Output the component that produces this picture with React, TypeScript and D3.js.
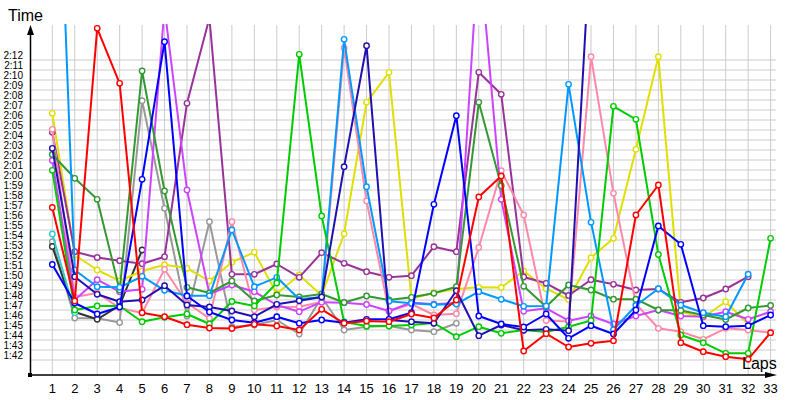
import React from 'react';
import * as d3 from 'd3';

const laps = [1,2,3,4,5,6,7,8,9,10,11,12,13,14,15,16,17,18,19,20,21,22,23,24,25,26,27,28,29,30,31,32,33];
const yTicks = [102,103,104,105,106,107,108,109,110,111,112,113,114,115,116,117,118,119,120,121,122,123,124,125,126,127,128,129,130,131,132];

// lap times in seconds
const red = [117.25,107.9,135.17,129.67,106.73,106.33,105.53,105.2,105.15,105.57,105.4,105.0,107.07,105.67,105.9,105.83,106.6,106.2,108.0,118.3,120.4,102.9,104.63,103.3,103.67,103.93,116.5,119.5,103.73,102.83,102.33,102.07,104.73];
const lime = [120.97,107.0,107.4,107.4,105.83,106.27,106.6,105.6,107.85,107.4,109.7,132.57,116.4,105.8,105.4,105.4,105.5,105.7,104.33,105.33,104.67,105.0,104.8,105.33,105.95,127.37,126.07,112.55,104.5,103.73,102.67,102.67,114.17];
const darkGreen = [122.55,120.17,118.07,109.0,130.9,118.9,109.27,108.7,109.9,107.9,108.5,108.3,108.6,107.75,108.4,108.0,108.27,108.67,109.33,127.77,119.43,109.37,107.33,109.5,109.0,108.08,108.08,107.0,106.95,106.5,106.05,107.2,107.45];
const blue = [111.55,107.7,106.6,107.3,120.07,133.83,108.4,106.8,106.0,105.73,106.33,105.67,106.0,105.73,106.07,106.07,106.73,117.57,126.43,106.4,105.6,105.3,106.6,104.17,105.43,104.6,107.0,115.4,113.57,105.43,105.33,105.43,106.5];
const indigo = [123.17,110.33,108.57,107.83,108.0,109.43,107.5,107.3,106.9,106.33,107.57,107.93,108.3,121.33,133.43,106.0,105.83,105.67,108.93,104.43,105.5,104.97,105.07,104.93,145];
const dodgerBlue = [170,111.0,109.33,109.27,110.37,108.97,108.43,108.43,115.0,109.33,110.27,108.07,108.3,134.07,119.33,107.87,107.67,107.53,107.6,108.83,108.07,107.37,107.4,129.57,115.77,105.03,107.45,109.13,107.5,106.73,106.33,110.58];
const yellow = [126.67,112.5,111.0,109.92,110.9,111.53,111.17,109.9,111.78,112.77,108.63,110.5,108.45,114.62,127.77,130.77,108.12,108.73,109.1,109.27,109.25,110.9,109.13,108.05,112.23,114.17,123.07,132.33,106.83,106.27,107.83,105.58];
const purple = [124.77,112.83,112.25,111.93,111.63,112.33,127.67,136.2,110.57,110.57,111.6,110.27,112.73,111.67,110.83,110.27,110.43,113.33,112.83,130.77,128.57,110.3,109.67,108.45,110.03,109.57,109.0,109.1,107.77,108.2,109.1,110.33];
const violet = [121.95,108.0,110.03,108.83,109.07,137.2,119.0,108.6,109.5,108.83,107.5,106.83,107.78,107.73,107.55,106.9,107.75,107.58,107.7,143.5,118.07,106.87,107.17,105.93,106.4,105.6,106.4,107.0,106.4,106.33,106.83,106.07,106.83];
const pink = [125.07,108.3,108.7,107.2,106.7,111.07,107.7,106.17,115.83,107.0,107.3,107.33,107.8,133.2,117.9,106.87,107.6,106.5,106.63,113.25,120.93,116.5,105.95,105.85,132.33,118.67,107.6,105.17,104.83,104.07,105.17,105.0,104.73];
const gray = [113.83,106.2,106.17,105.75,127.93,117.17,106.4,115.83,105.3,105.5,106.0,104.6,108.27,105.0,105.33,105.4,105.0,104.83,105.67];
const darkGray = [113.35,106.8,106.07,107.45,113.0];
const cyan = [114.6,106.73];

const series = [
  { color: '#999999', values: gray },
  { color: '#333333', values: darkGray },
  { color: '#33cccc', values: cyan },
  { color: '#e0e000', values: yellow },
  { color: '#993399', values: purple },
  { color: '#ff88aa', values: pink },
  { color: '#cc44ff', values: violet },
  { color: '#339933', values: darkGreen },
  { color: '#0099ff', values: dodgerBlue },
  { color: '#00cc00', values: lime },
  { color: '#2010b0', values: indigo },
  { color: '#0000ff', values: blue },
  { color: '#ff0000', values: red },
];

const fmt = (s: number) => `${Math.floor(s / 60)}:${String(s % 60).padStart(2, '0')}`;

export default function App() {
  const x = d3.scaleLinear().domain([1, 33]).range([52.3, 770.6]);
  const y = d3.scaleLinear().domain([102, 132]).range([360, 60]);
  const line = d3.line<number>().x((_, i) => x(laps[i])).y((d) => y(d));
  const font = "'Liberation Sans', Arial, sans-serif";
  return (
    <svg width={800} height={400} style={{ position: 'absolute', left: 0, top: 0, background: '#fff' }} fontFamily={font}>
      <defs>
        <clipPath id="plotClip">
          <rect x={31} y={24} width={750} height={350} />
        </clipPath>
      </defs>
      <g stroke="#cccccc" strokeWidth={1}>
        {laps.map((l) => (
          <line key={'v' + l} x1={x(l)} x2={x(l)} y1={25} y2={375} />
        ))}
        {yTicks.map((t) => (
          <line key={'h' + t} x1={30} x2={776} y1={y(t)} y2={y(t)} />
        ))}
      </g>
      <g fontSize={10} fill="#000" textAnchor="end">
        {yTicks.map((t) => (
          <text key={'yl' + t} x={23} y={y(t) - 5} dominantBaseline="central">{fmt(t)}</text>
        ))}
      </g>
      <g fontSize={13} fill="#000" textAnchor="middle">
        {laps.map((l) => (
          <text key={'xl' + l} x={x(l)} y={393}>{l}</text>
        ))}
      </g>
      <g clipPath="url(#plotClip)">
        {series.map((s, si) => (
          <g key={'s' + si}>
            <path d={line(s.values) || ''} fill="none" stroke={s.color} strokeWidth={2} strokeLinejoin="round" />
            {s.values.map((v, i) => (
              <circle key={i} cx={x(laps[i])} cy={y(v)} r={2.7} fill="#fff" stroke={s.color} strokeWidth={1.4} />
            ))}
          </g>
        ))}
      </g>
      <line x1={30.5} x2={30.5} y1={375} y2={34} stroke="#000" strokeWidth={1.5} />
      <polygon points="27,35 34,35 30.5,25" fill="#000" />
      <line x1={30} x2={767} y1={375} y2={375} stroke="#000" strokeWidth={1.5} />
      <polygon points="765,372 765,378 777,375" fill="#000" />
      <rect x={28} y={373} width={4} height={4} fill="#000" />
      <text x={8} y={21} fontSize={16} fill="#000">Time</text>
      <text x={742} y={369} fontSize={16} fill="#000">Laps</text>
    </svg>
  );
}
